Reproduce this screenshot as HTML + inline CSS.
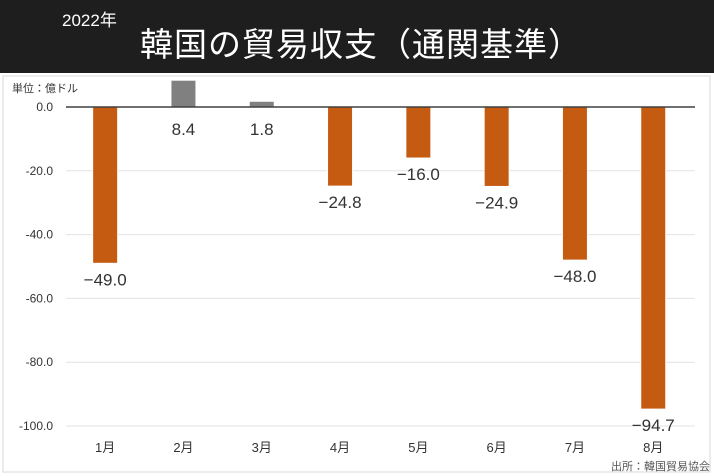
<!DOCTYPE html>
<html><head><meta charset="utf-8"><style>
body{margin:0;width:714px;height:476px;overflow:hidden;background:#fff;font-family:"Liberation Sans","Noto Sans CJK JP",sans-serif}
#hdr{position:absolute;left:0;top:0;width:714px;height:73px;background:#1e1e1e}
#yr{position:absolute;left:62px;top:6px;color:#fff;font-size:17px}
#ttl{position:absolute;left:140px;top:18px;color:#fff;font-size:33px;letter-spacing:1px;white-space:nowrap}
</style></head><body>
<div id="hdr">
<div id="yr">2022年</div>
<div id="ttl">韓国の貿易収支（通関基準）</div>
</div>
<svg id="chart" width="714" height="476" style="position:absolute;left:0;top:0"></svg>
<script>
const categories=["1月","2月","3月","4月","5月","6月","7月","8月"];
const values=[-49.0,8.4,1.8,-24.8,-16.0,-24.9,-48.0,-94.7];
const yTicks=[0,-20,-40,-60,-80,-100];
const tickLabels=["0.0","-20.0","-40.0","-60.0","-80.0","-100.0"];
const NS="http://www.w3.org/2000/svg";
const svg=document.getElementById('chart');
const x0=66,step=78.3,bw=25;
const y=v=>107-v*3.19;
const xc=i=>x0+step*(i+0.5);
function mk(t,a,txt){const e=document.createElementNS(NS,t);for(const k in a)e.setAttribute(k,a[k]);if(txt!==undefined)e.textContent=txt;svg.appendChild(e);return e;}
const panel=mk('rect',{x:3,y:76,width:707,height:396,fill:'none',stroke:'#d8d8d8'});


const unit=mk('text',{x:12,y:92,'font-size':11,fill:'#333'},'単位：億ドル');


yTicks.forEach((t,i)=>{
 if(t!==0){const g=mk('line',{x1:66,x2:695,y1:y(t),y2:y(t),stroke:'#e3e3e3','stroke-width':1});
 
 }
 const l=mk('text',{x:53,y:y(t)+4,'font-size':12,fill:'#333','text-anchor':'end'},tickLabels[i]);
 
 
});
values.forEach((v,i)=>{
 const b=mk('rect',{x:xc(i)-bw/2,y:Math.min(y(v),y(0)),width:bw,height:Math.abs(y(v)-y(0)),fill:v>=0?'#808080':'#c55a11',stroke:'#fff','stroke-width':1});
 
 
 const ly=v>=0?y(0)+28:y(v)+22;
 const t=mk('text',{x:xc(i),y:ly,'font-size':17,fill:'#333','text-anchor':'middle'},(v<0?'−':'')+Math.abs(v).toFixed(1));
 
 
 const c=mk('text',{x:xc(i),y:452,'font-size':13,fill:'#333','text-anchor':'middle'},categories[i]);
 
 
});
const zl=mk('line',{x1:66,x2:695,y1:y(0),y2:y(0),stroke:'#404040','stroke-width':1.5});


const src=mk('text',{x:710,y:470,'font-size':11,fill:'#555','text-anchor':'end'},'出所：韓国貿易協会');


</script>
</body></html>
